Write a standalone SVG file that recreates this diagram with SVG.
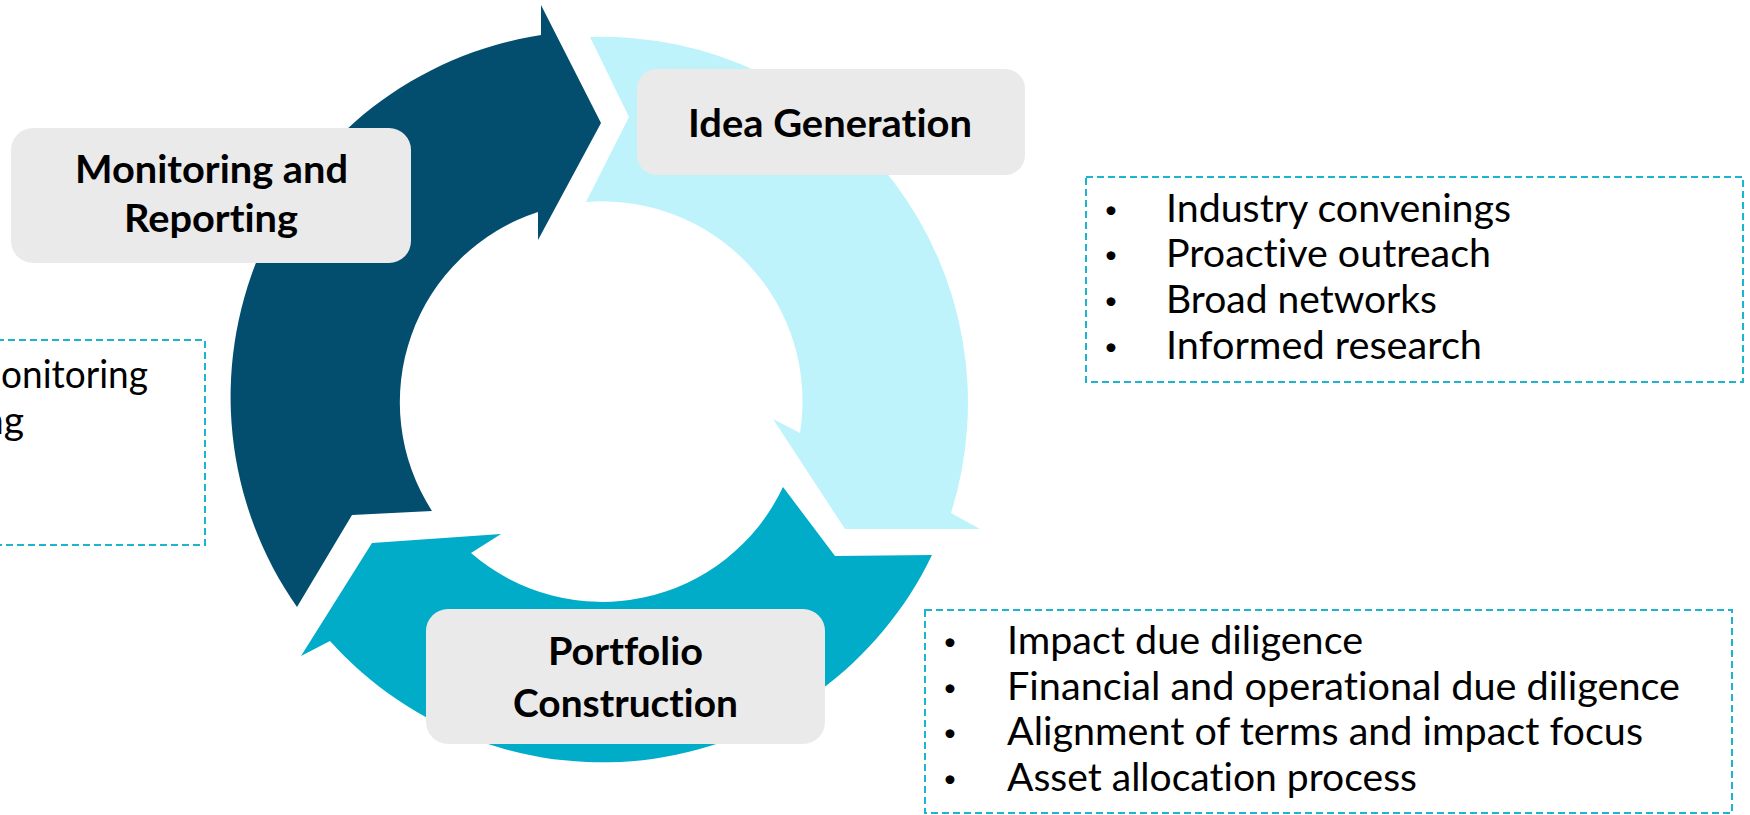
<svg xmlns="http://www.w3.org/2000/svg" width="1750" height="815" viewBox="0 0 1750 815">
<style>
text{font-variant-ligatures:none;font-feature-settings:"liga" 0,"clig" 0}
.lbl{font-family:Lato,'Liberation Sans',sans-serif;font-weight:700;font-size:39px;fill:#000;text-anchor:middle}
.txt{font-family:Lato,'Liberation Sans',sans-serif;font-size:39px;fill:#000}
.bul{font-family:Lato,'Liberation Sans',sans-serif;font-size:24px;fill:#000;text-anchor:middle}
.box{fill:#EAEAEA}
.call{fill:none;stroke:#1DB4CF;stroke-width:2;stroke-dasharray:7 4}
</style>
<rect width="1750" height="815" fill="#ffffff"/>
<g id="connectors">
<path id="arrow-monitoring" fill="#034D6F" d="M541,35 A366,366 0 0 0 297,607 L352,515 L432,511 A200,200 0 0 1 538,212 L538,240 L601,123 L541,5 Z"/>
<path id="arrow-idea" fill="#BFF3FC" d="M590,37 A366,366 0 0 1 951,513 L980,529 L845,529 L773,419 L800,433 A200,200 0 0 0 586,202 L629,117 Z"/>
<path id="arrow-portfolio" fill="#00ACC8" d="M932,555 A366,366 0 0 1 330,641 L301,656 L372,543 L501,534 L471,553 A200,200 0 0 0 783,487 L835,556 Z"/>
</g>
<g id="node-monitoring">
<rect class="box" x="11" y="128" width="400" height="135" rx="22"/>
<text class="lbl" x="211.5" y="183" textLength="273" lengthAdjust="spacingAndGlyphs">Monitoring and</text>
<text class="lbl" x="211" y="232" textLength="174" lengthAdjust="spacingAndGlyphs">Reporting</text>
</g>
<g id="node-idea">
<rect class="box" x="637" y="69" width="388" height="106" rx="20"/>
<text class="lbl" x="830" y="137" textLength="284" lengthAdjust="spacingAndGlyphs">Idea Generation</text>
</g>
<g id="node-portfolio">
<rect class="box" x="426" y="609" width="399" height="135" rx="22"/>
<text class="lbl" x="625.5" y="665" textLength="155" lengthAdjust="spacingAndGlyphs">Portfolio</text>
<text class="lbl" x="625.5" y="717" textLength="225" lengthAdjust="spacingAndGlyphs">Construction</text>
</g>
<g id="callout-idea">
<rect class="call" x="1086" y="177" width="657" height="205"/>
<text class="bul" x="1111" y="218">•</text>
<text class="bul" x="1111" y="263">•</text>
<text class="bul" x="1111" y="309">•</text>
<text class="bul" x="1111" y="355">•</text>
<text class="txt" x="1166" y="222" textLength="345" lengthAdjust="spacingAndGlyphs">Industry convenings</text>
<text class="txt" x="1166" y="267" textLength="325" lengthAdjust="spacingAndGlyphs">Proactive outreach</text>
<text class="txt" x="1166" y="313" textLength="271" lengthAdjust="spacingAndGlyphs">Broad networks</text>
<text class="txt" x="1166" y="359" textLength="316" lengthAdjust="spacingAndGlyphs">Informed research</text>
</g>
<g id="callout-portfolio">
<rect class="call" x="925" y="610" width="807" height="203"/>
<text class="bul" x="950" y="650">•</text>
<text class="bul" x="950" y="696">•</text>
<text class="bul" x="950" y="741">•</text>
<text class="bul" x="950" y="787">•</text>
<text class="txt" x="1007" y="654" textLength="356" lengthAdjust="spacingAndGlyphs">Impact due diligence</text>
<text class="txt" x="1007" y="700" textLength="673" lengthAdjust="spacingAndGlyphs">Financial and operational due diligence</text>
<text class="txt" x="1007" y="745" textLength="636" lengthAdjust="spacingAndGlyphs">Alignment of terms and impact focus</text>
<text class="txt" x="1007" y="791" textLength="410" lengthAdjust="spacingAndGlyphs">Asset allocation process</text>
</g>
<g id="callout-monitoring">
<rect class="call" x="-300" y="340" width="505" height="205"/>
<text class="txt" x="1" y="388" textLength="147" lengthAdjust="spacingAndGlyphs">onitoring</text>
<text class="txt" x="24" y="434" text-anchor="end">ng</text>
</g>
</svg>
